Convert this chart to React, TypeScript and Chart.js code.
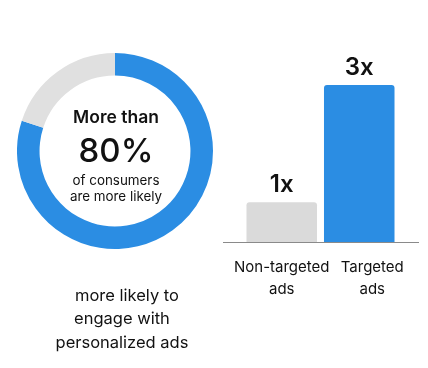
import React, { useEffect, useRef } from 'react';
import { Chart, registerables } from 'chart.js';

Chart.register(...registerables);

const donutLabels = ['More likely', 'Others'];
const donutValues = [80, 20];
const donutColors = ['#2B8DE3', '#E0E0E0'];

const barCategories = [['Non-targeted', 'ads'], ['Targeted', 'ads']];
const barValues = [1, 3];
const barValueLabels = ['1x', '3x'];
const barColors = ['#DADADA', '#2B8DE3'];

const centerLines = ['More than', '80%', 'of consumers', 'are more likely'];
const captionLines = ['more likely to', 'engage with', 'personalized ads'];

const FONT = 'Inter, "Noto Sans", "DejaVu Sans", sans-serif';
// horizontal nudge of each category label relative to its tick (style only)
const LABEL_NUDGE = [0, 13];

export default function App() {
  const donutRef = useRef<HTMLCanvasElement | null>(null);
  const barRef = useRef<HTMLCanvasElement | null>(null);

  useEffect(() => {
    const donut = new Chart(donutRef.current as HTMLCanvasElement, {
      type: 'doughnut',
      data: {
        labels: donutLabels,
        datasets: [{ data: donutValues, backgroundColor: donutColors, borderWidth: 0 }],
      },
      options: {
        responsive: false,
        animation: false,
        cutout: '77%',
        rotation: 0,
        layout: { padding: 0 },
        plugins: { legend: { display: false }, tooltip: { enabled: false } },
      },
    });

    const valueLabelPlugin = {
      id: 'valueLabels',
      afterDatasetsDraw(chart: any) {
        const ctx = chart.ctx;
        const meta = chart.getDatasetMeta(0);
        ctx.save();
        ctx.fillStyle = '#111';
        ctx.font = `600 24px ${FONT}`;
        ctx.textAlign = 'center';
        ctx.textBaseline = 'alphabetic';
        meta.data.forEach((el: any, i: number) => {
          ctx.fillText(barValueLabels[i], el.x, el.y - 10);
        });
        ctx.restore();
      },
    };

    const axisPlugin = {
      id: 'axisLabels',
      afterDatasetsDraw(chart: any) {
        const ctx = chart.ctx;
        const xs = chart.scales.x;
        const y = Math.round(chart.chartArea.bottom) + 0.5;
        ctx.save();
        ctx.strokeStyle = '#8A8A8A';
        ctx.lineWidth = 1;
        ctx.beginPath();
        ctx.moveTo(0, y);
        ctx.lineTo(chart.width, y);
        ctx.stroke();
        ctx.fillStyle = '#111';
        ctx.font = `400 15px ${FONT}`;
        ctx.textAlign = 'center';
        ctx.textBaseline = 'middle';
        (chart.data.labels as string[][]).forEach((lines, i) => {
          const x = xs.getPixelForTick(i) + LABEL_NUDGE[i];
          lines.forEach((line, j) => {
            ctx.fillText(line, x, y + 25 + j * 21.5);
          });
        });
        ctx.restore();
      },
    };

    const bar = new Chart(barRef.current as HTMLCanvasElement, {
      type: 'bar',
      data: {
        labels: barCategories,
        datasets: [
          {
            data: barValues,
            backgroundColor: barColors,
            borderWidth: 0,
            borderRadius: { topLeft: 3, topRight: 3, bottomLeft: 0, bottomRight: 0 },
            borderSkipped: 'start',
            barPercentage: 0.91,
            categoryPercentage: 1,
          },
        ],
      },
      options: {
        responsive: false,
        animation: false,
        layout: { padding: { left: 20, right: 21, top: 0, bottom: 0 } },
        plugins: { legend: { display: false }, tooltip: { enabled: false } },
        scales: {
          x: {
            grid: { display: false, drawTicks: false },
            border: { display: false },
            ticks: { display: false },
            afterFit(scale: any) {
              scale.height = 59;
              scale.paddingLeft = 0;
              scale.paddingRight = 0;
            },
          },
          y: {
            display: false,
            min: 0.32,
            max: 3.768,
          },
        },
      },
      plugins: [valueLabelPlugin, axisPlugin],
    });

    return () => {
      donut.destroy();
      bar.destroy();
    };
  }, []);

  const centerStyles = [
    { y: 117, size: 17.5, weight: 600 },
    { y: 150, size: 33, weight: 500 },
    { y: 180, size: 13.4, weight: 400 },
    { y: 196, size: 13.4, weight: 400 },
  ];
  const captionY = [295, 318, 342];
  const captionX = [127, 122, 122];

  return (
    <div
      style={{
        position: 'fixed',
        left: 0,
        top: 0,
        width: 428,
        height: 368,
        background: '#fff',
        overflow: 'hidden',
        fontFamily: FONT,
        color: '#111',
      }}
    >
      <canvas
        ref={donutRef}
        width={196}
        height={196}
        style={{ position: 'absolute', left: 17, top: 53, width: 196, height: 196 }}
      />
      {centerLines.map((t, i) => (
        <div
          key={t}
          style={{
            position: 'absolute',
            left: 16,
            width: 200,
            top: centerStyles[i].y - 20,
            height: 40,
            lineHeight: '40px',
            textAlign: 'center',
            fontSize: centerStyles[i].size,
            fontWeight: centerStyles[i].weight,
            whiteSpace: 'nowrap',
          }}
        >
          {t}
        </div>
      ))}
      <canvas
        ref={barRef}
        width={196}
        height={261}
        style={{ position: 'absolute', left: 223, top: 40, width: 196, height: 261 }}
      />
      {captionLines.map((t, i) => (
        <div
          key={t}
          style={{
            position: 'absolute',
            left: captionX[i] - 100,
            width: 200,
            top: captionY[i] - 12,
            height: 24,
            lineHeight: '24px',
            textAlign: 'center',
            fontSize: 16.5,
            whiteSpace: 'nowrap',
          }}
        >
          {t}
        </div>
      ))}
    </div>
  );
}
